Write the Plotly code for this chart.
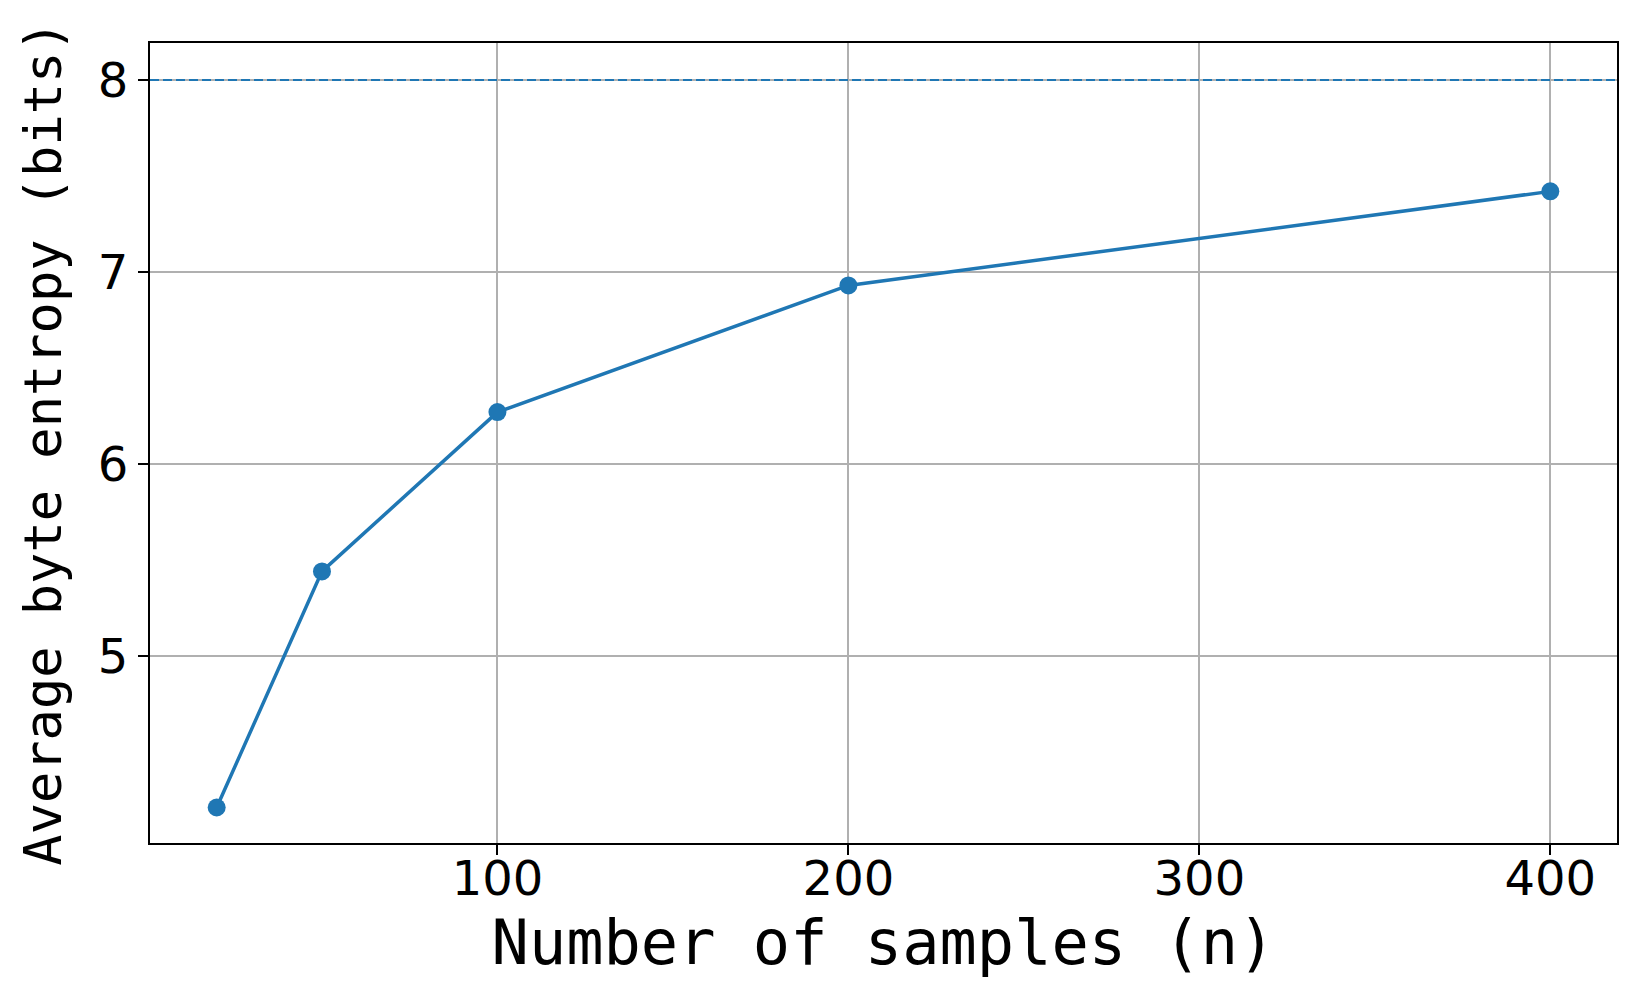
import plotly.graph_objects as go

# data
n_samples = [20, 50, 100, 200, 400]
avg_entropy = [4.21, 5.44, 6.27, 6.93, 7.42]
max_entropy = 8

x_ticks = [100, 200, 300, 400]
y_ticks = [5, 6, 7, 8]

blue = '#1f77b4'

fig = go.Figure()
fig.add_trace(go.Scatter(x=n_samples, y=avg_entropy, mode='lines+markers',
                         line=dict(color=blue, width=3.5),
                         marker=dict(color=blue, size=18),
                         showlegend=False))
fig.add_hline(y=max_entropy, line=dict(color=blue, width=2, dash='9px,4px'))

axis_common = dict(showline=True, linecolor='black', linewidth=2, mirror=True,
                   ticks='outside', ticklen=10, tickwidth=2, tickcolor='black',
                   showgrid=True, gridcolor='#b0b0b0', gridwidth=1.8,
                   zeroline=False,
                   tickfont=dict(family='DejaVu Sans', size=48, color='black'))

fig.update_xaxes(range=[1, 419], tickvals=x_ticks, ticklabelstandoff=-18,
                 title=dict(text='Number of samples (n)', standoff=4,
                            font=dict(family='DejaVu Sans Mono', size=62,
                                      color='black')),
                 **axis_common)
fig.update_yaxes(range=[4.025, 8.193], tickvals=y_ticks,
                 title=dict(text='Average byte entropy (bits)', standoff=20,
                            font=dict(family='DejaVu Sans Mono', size=52,
                                      color='black')),
                 **axis_common)

# the page body adds an 8px offset, so the figure is 8px smaller
fig.update_layout(width=1625, height=973,
                  margin=dict(l=142, r=16, t=35, b=138, autoexpand=False),
                  paper_bgcolor='white', plot_bgcolor='white')

fig.write_html("out.html")
